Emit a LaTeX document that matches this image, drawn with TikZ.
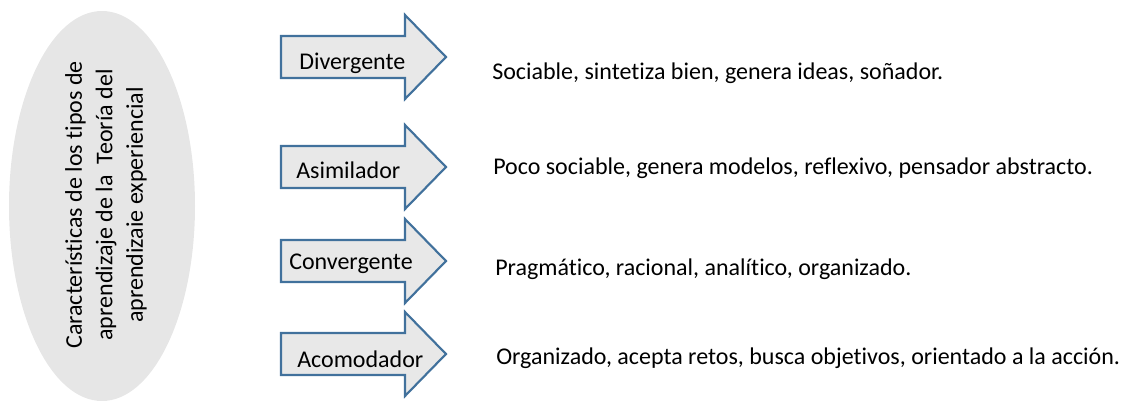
\documentclass[tikz,border=0pt]{standalone}
\usepackage{fontspec}
\setmainfont[Ligatures=NoCommon]{Carlito}
\usetikzlibrary{shapes.geometric}
\definecolor{grisfondo}{HTML}{E6E6E6}
\definecolor{flechafondo}{HTML}{E8E8E8}
\definecolor{flechaborde}{HTML}{41719C}
\tikzset{
  tema/.style={ellipse, fill=grisfondo, inner sep=0pt},
  flecha/.style={draw=flechaborde, fill=flechafondo, line width=1.6pt, line join=miter},
  etiqueta/.style={anchor=base west, inner sep=0pt, font=\fontsize{18}{21}\selectfont},
  rasgo/.style={anchor=base west, inner sep=0pt, font=\fontsize{18}{21}\selectfont}
}
\newcommand{\flechakolb}[1]{%
  \draw[flecha] (281,#1-21)--(405,#1-21)--(405,#1-42)--(446,#1)--(405,#1+42)--(405,#1+21)--(281,#1+21)--cycle;}
\begin{document}
\begin{tikzpicture}[x=0.75pt,y=-0.75pt]
		\useasboundingbox (0,0) rectangle (1124,404);
		% ovalo con el tema
		\node[tema, minimum width=186*0.75pt, minimum height=390*0.75pt] (tema) at (102,206) {};
		\node[rotate=90, align=center, font=\fontsize{18}{22.9}\selectfont] (titulo) at (106,205)
			{Características de los tipos de\\ aprendizaje de la~ Teoría del\\ aprendizaie experiencial};
		% flechas
		\flechakolb{57}
		\flechakolb{167}
		\flechakolb{261}
		\flechakolb{354}
		\node[etiqueta] (div) at (299,69) {Divergente};
		\node[etiqueta] (asi) at (296,178) {Asimilador};
		\node[etiqueta] (con) at (289,269) {Convergente};
		\node[etiqueta] (aco) at (297,367) {Acomodador};
		% rasgos de cada tipo
		\node[rasgo] (tdiv) at (492,79) {Sociable, sintetiza bien, genera ideas, soñador.};
		\node[rasgo] (tasi) at (493,174) {Poco sociable, genera modelos, reflexivo, pensador abstracto.};
		\node[rasgo] (tcon) at (495,275) {Pragmático, racional, analítico, organizado.};
		\node[rasgo] (taco) at (496,364) {Organizado, acepta retos, busca objetivos, orientado a la acción.};
		\end{tikzpicture}
\end{document}
